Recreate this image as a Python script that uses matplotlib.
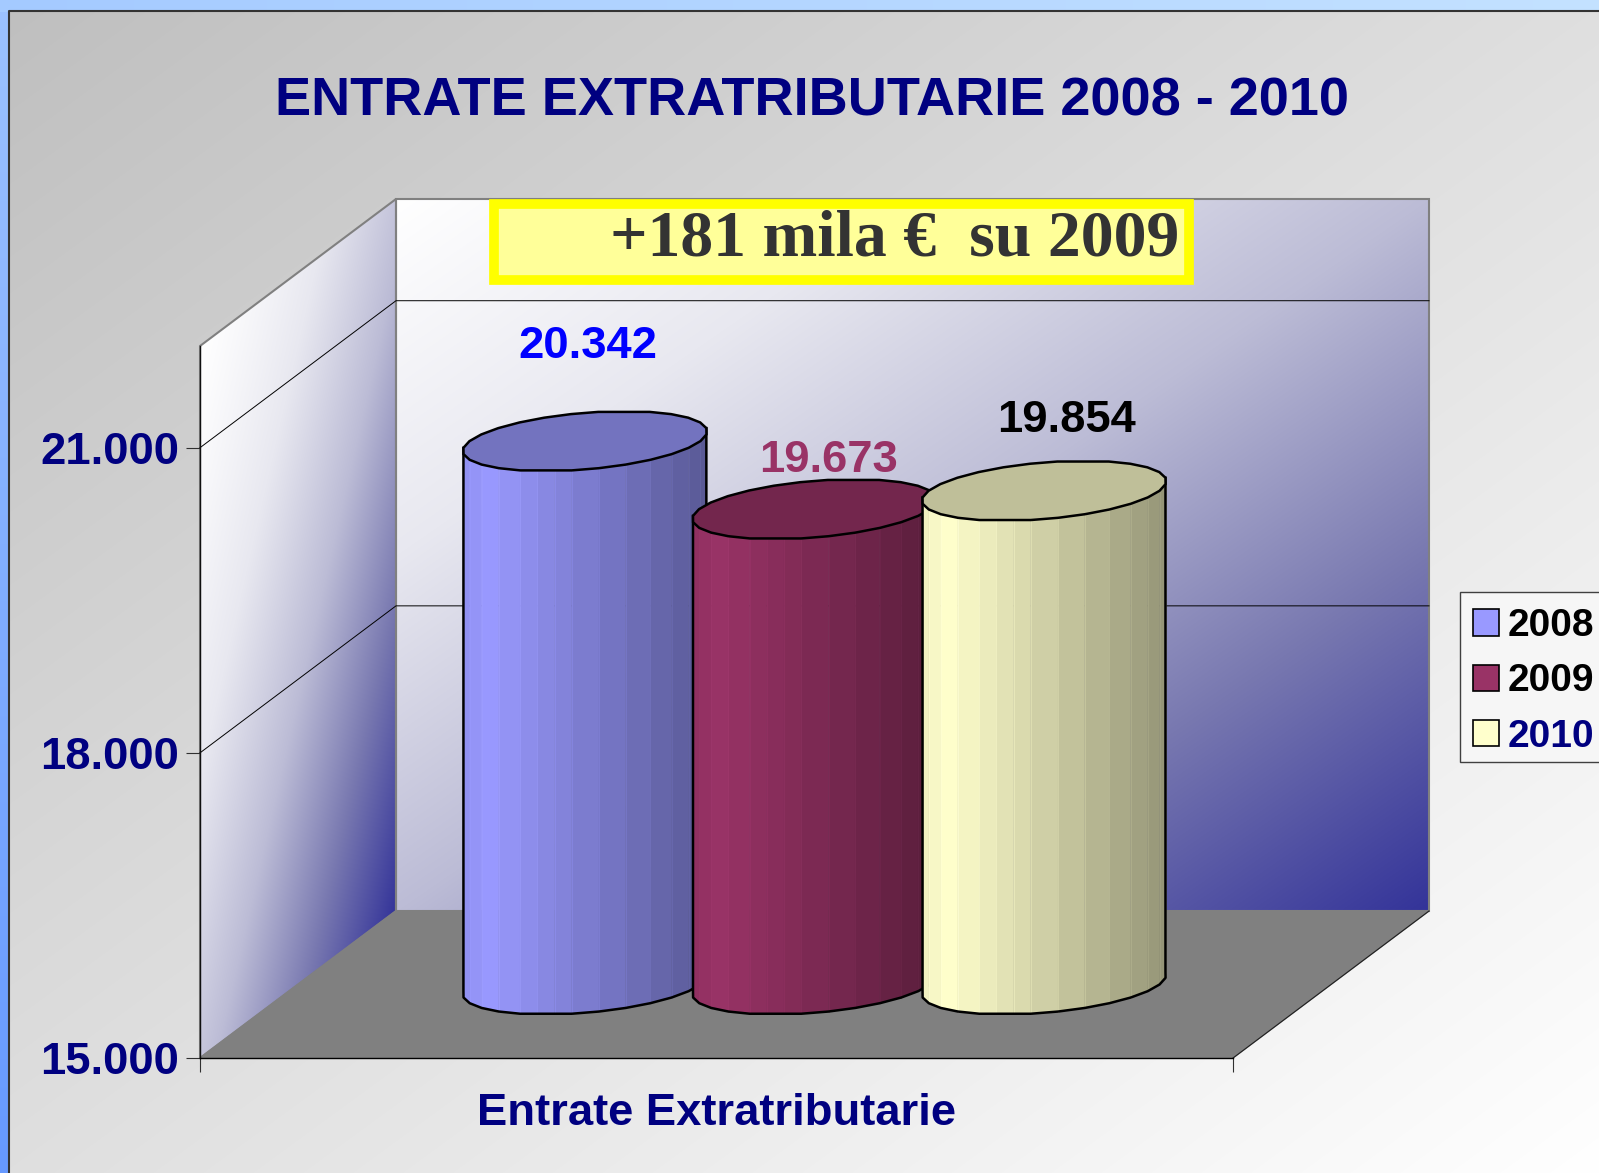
import numpy as np
import matplotlib
matplotlib.use('Agg')
import matplotlib.pyplot as plt
from matplotlib.patches import Patch, Polygon, Rectangle
from matplotlib.transforms import IdentityTransform

years = ['2008', '2009', '2010']
values = [20342, 19673, 19854]
value_labels = ['20.342', '19.673', '19.854']
bar_colors = ['#9999FF', '#993366', '#FFFFCC']
label_colors = ['#0000FF', '#993366', '#000000']
legend_colors = ['#000000', '#000000', '#000080']
y_ticks = [15000, 18000, 21000]
y_tick_labels = ['15.000', '18.000', '21.000']
y_max = 22000
title = 'ENTRATE EXTRATRIBUTARIE 2008 - 2010'
x_title = 'Entrate Extratributarie'
note = '+181 mila €  su 2009'

W, H = 1599, 1173
NAVY = '#000080'
SANS = 'Liberation Sans'
SERIF = 'Liberation Serif'

# front plane of the 3d box, in picture pixels
LEFT, RIGHT, TOP, BOTTOM = 200, 1233, 346, 1058
DX, DY = 196, 147


def hex_rgb(c):
    return np.array(matplotlib.colors.to_rgb(c))


def wall_colors(t):
    stops = [0, 0.25, 0.5, 0.75, 1]
    cols = np.array([hex_rgb(c) for c in ['#FFFFFF', '#E8E8F0', '#BCBCD6', '#7878B0', '#333399']])
    return np.dstack([np.interp(t, stops, cols[:, i]) for i in range(3)])


fig = plt.figure(figsize=(W / 100, H / 100), dpi=100)

# background layer in pixel coordinates
bg = fig.add_axes([0, 0, 1, 1])
bg.set_xlim(0, W)
bg.set_ylim(H, 0)
bg.axis('off')

# blue outer band
yy, xx = np.mgrid[0:H, 0:W]
band_t = yy / H
band = np.dstack([np.interp(band_t, [0, 1], [c0, c1])
                  for c0, c1 in zip(hex_rgb('#9CC2FF'), hex_rgb('#6699FF'))])
strip = yy < 12
for i, (c0, c1) in enumerate(zip(hex_rgb('#A4CAFF'), hex_rgb('#C4E2FF'))):
    band[..., i][strip] = (c0 + (c1 - c0) * xx / W)[strip]
bg.imshow(band, extent=(0, W, H, 0), aspect='auto', zorder=0)

# grey slide panel
t = ((xx - 9) / (W - 9) + (yy - 11) / (H - 11)) / 2
panel = np.dstack([np.interp(t, [0, 1], [0.75, 1.0])] * 3)
im = bg.imshow(panel, extent=(0, W, H, 0), aspect='auto', zorder=1)
im.set_clip_path(Rectangle((9, 11), W, H, transform=bg.transData))
bg.plot([9, 9, W], [H, 11, 11], color='#333333', lw=1.5, zorder=2)
bg.set_xlim(0, W)
bg.set_ylim(H, 0)

# back wall
bx0, bx1 = LEFT + DX, RIGHT + DX
by0, by1 = TOP - DY, BOTTOM - DY
t = ((xx - bx0) / (bx1 - bx0) + (yy - by0) / (by1 - by0)) / 2
im = bg.imshow(wall_colors(np.clip(t, 0, 1)), extent=(0, W, H, 0), aspect='auto', zorder=3)
back = Polygon([(bx0, by0), (bx1, by0), (bx1, by1), (bx0, by1)], closed=True,
               transform=bg.transData, fc='none', ec='#808080', lw=1.5, zorder=4)
bg.add_patch(back)
im.set_clip_path(back)

# side wall
u = (xx - LEFT) / DX
v = (yy - (TOP - DY * u)) / (BOTTOM - TOP)
t = np.clip((u + v) / 2, 0, 1) ** 1.15
im = bg.imshow(wall_colors(t), extent=(0, W, H, 0), aspect='auto', zorder=3)
side = Polygon([(LEFT, TOP), (bx0, by0), (bx0, by1), (LEFT, BOTTOM)], closed=True,
               transform=bg.transData, fc='none', ec='#808080', lw=1.5, zorder=4)
bg.add_patch(side)
im.set_clip_path(side)

# floor
bg.add_patch(Polygon([(LEFT, BOTTOM), (bx0, by1), (bx1, by1), (RIGHT, BOTTOM)], closed=True,
                     fc='#808080', ec='#808080', lw=1, zorder=5))
bg.plot([RIGHT, bx1], [BOTTOM, by1], color='#202020', lw=0.8, zorder=6)

# note box
bg.add_patch(Rectangle((494, 204), 695, 76, fc='#FFFF99', ec='#FFFF00', lw=7, zorder=6))
bg.text(1179, 239, note, family=SERIF, weight='bold', size=47.3, color='#333333',
        ha='right', va='center', zorder=7)

bg.text(812, 102, title, family=SANS, weight='bold', size=39, color=NAVY,
        ha='center', va='center', zorder=7)

# legend frame runs off the right edge
bg.add_patch(Rectangle((1460, 592), 200, 170, fc='#F6F6F6', ec='#404040', lw=1.0, zorder=6))

# chart axes sit on the front plane
ax = fig.add_axes([LEFT / W, 1 - BOTTOM / H, (RIGHT - LEFT) / W, (BOTTOM - TOP) / H], zorder=2)
ax.patch.set_alpha(0)
ax.set_ylim(y_ticks[0], y_max)
ax.set_xlim(-1.25, 3.25)
for name in ['top', 'right']:
    ax.spines[name].set_visible(False)
ax.spines['left'].set_color('#101010')
ax.spines['bottom'].set_color('#000000')
ax.spines['left'].set_linewidth(1.0)
ax.spines['bottom'].set_linewidth(1.0)
ax.set_yticks(y_ticks)
ax.set_yticklabels(y_tick_labels, family=SANS, weight='bold', size=32.7, color=NAVY)
ax.set_xticks([-1.25, 3.25])
ax.set_xticklabels(['', ''])
ax.tick_params(axis='both', length=10, width=0.8, color='#303030')
ax.tick_params(axis='y', pad=4.8)
ax.set_xlabel(x_title, family=SANS, weight='bold', size=32.7, color=NAVY, labelpad=11.5)

identity = IdentityTransform()

# gridlines along side and back wall, display coords are y up
for tick in y_ticks[1:]:
    x0, y0 = ax.transData.transform((-1.25, tick))
    x1 = ax.transData.transform((3.25, tick))[0]
    bg.plot([x0, x0 + DX, x1 + DX], [y0, y0 + DY, y0 + DY], transform=identity,
            color='#000000', lw=0.7, zorder=4.5)

# cylinders are coarse polygons like the original, flat at the very top and bottom
A, B, C = 115.5, 40.0, 30.0
STEP = 360 / 28
cap_deg = np.concatenate([[-90 - STEP], -90 + STEP * np.arange(1, 27)])
cap_deg = cap_deg[~np.isclose(cap_deg, 90)]
side_deg = np.array([a for a in np.arange(-167.14, 26, STEP) if not np.isclose(a, -90, atol=1)])


def ring(cx, cy, degrees):
    a = np.radians(degrees)
    return np.column_stack([cx + A * np.cos(a) + B * np.sin(a), cy + C * np.sin(a)])


def split_flat(points):
    # the long flat segment at the bottom still gets a few shading strips
    out = []
    for p, q in zip(points[:-1], points[1:]):
        n = 3 if q[0] - p[0] > 30 else 1
        for k in range(n):
            out.append(p + (q - p) * k / n)
    out.append(points[-1])
    return np.array(out)


for i, (value, color) in enumerate(zip(values, bar_colors)):
    cx, cy_base = ax.transData.transform((i, y_ticks[0]))
    cy_top = ax.transData.transform((i, value))[1]
    cx += DX / 2
    cy_base += DY / 2
    cy_top += DY / 2
    rgb = hex_rgb(color)

    base = split_flat(ring(cx, cy_base, side_deg))
    top = base + [0, cy_top - cy_base]
    left_x, right_x = base[0, 0], base[-1, 0]
    for j in range(len(base) - 1):
        s = ((base[j, 0] + base[j + 1, 0]) / 2 - left_x) / (right_x - left_x)
        shade = np.interp(s, [0, 0.1, 1], [0.94, 1.0, 0.58])
        quad = [base[j], base[j + 1], top[j + 1], top[j]]
        ax.add_patch(Polygon(quad, closed=True, transform=identity, fc=rgb * shade,
                             ec=rgb * shade, lw=0.4, clip_on=False, zorder=3 + i))
        # thin lighter seam between strips
        seam = np.clip(rgb * shade * 1.07, 0, 1)
        ax.plot([base[j + 1, 0]] * 2, [base[j + 1, 1], top[j + 1, 1]], transform=identity,
                color=seam, lw=0.4, clip_on=False, zorder=3.1 + i)

    outline = np.vstack([top[0], base, top[-1]])
    ax.plot(outline[:, 0], outline[:, 1], transform=identity, color='black', lw=1.8,
            clip_on=False, zorder=3.5 + i, solid_joinstyle='round')
    cap = ring(cx, cy_top, cap_deg)
    ax.add_patch(Polygon(cap, closed=True, transform=identity, fc=rgb * 0.75, ec='black',
                         lw=1.8, clip_on=False, zorder=3.6 + i))

# value labels, offset from the top of each cylinder (pixels)
label_offsets = [(3, 95), (14, 49), (22, 70)]
for i, (value, text, color) in enumerate(zip(values, value_labels, label_colors)):
    off = label_offsets[i]
    x, y = ax.transData.transform((i, value))
    ax.text(x + DX / 2 + off[0], y + DY / 2 + off[1], text, transform=identity, family=SANS,
            weight='bold', size=32.7, color=color, ha='center', va='center', zorder=8)

handles = [Patch(facecolor=c, edgecolor='black', linewidth=1.2) for c in bar_colors]
leg = ax.legend(handles, years, loc='upper left', bbox_to_anchor=(1460 / W, 1 - 595 / H),
                bbox_transform=fig.transFigure, prop={'family': SANS, 'weight': 'bold', 'size': 28},
                labelcolor=legend_colors, handlelength=0.665, handleheight=0.665, handletextpad=0.236,
                labelspacing=0.5, borderpad=0.334, borderaxespad=0, frameon=False)
leg.set_zorder(9)

fig.savefig('out.png', dpi=100)
